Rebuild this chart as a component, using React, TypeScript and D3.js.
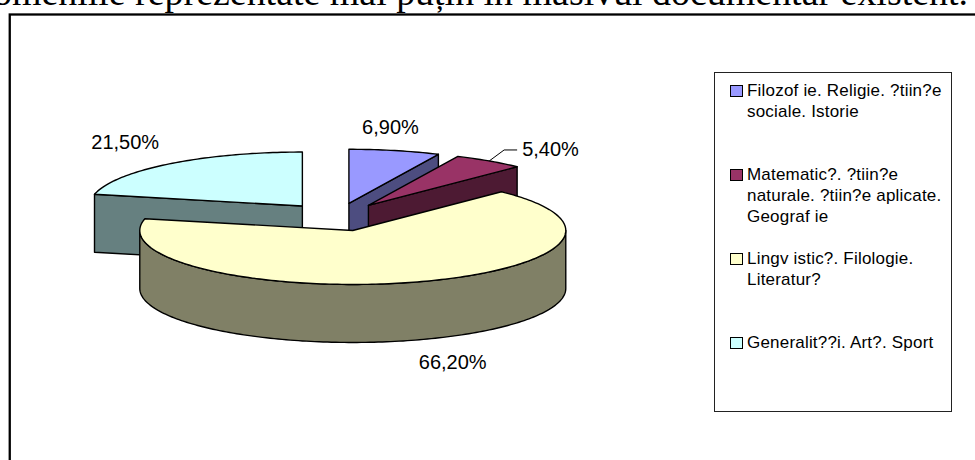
import React, { useEffect, useRef } from 'react';
import * as d3 from 'd3';

// text of the document line cut off above the chart
const pageTitle = 'domeniile reprezentate mai puțin în masivul documentar existent.';

// legend entries, as they appear (broken encoding kept)
const categories = [
  'Filozof ie. Religie. ?tiin?e sociale. Istorie',
  'Matematic?. ?tiin?e naturale. ?tiin?e aplicate. Geograf ie',
  'Lingv istic?. Filologie. Literatur?',
  'Generalit??i. Art?. Sport',
];
const legendLines = [
  ['Filozof ie. Religie. ?tiin?e', 'sociale. Istorie'],
  ['Matematic?. ?tiin?e', 'naturale. ?tiin?e aplicate.', 'Geograf ie'],
  ['Lingv istic?. Filologie.', 'Literatur?'],
  ['Generalit??i. Art?. Sport'],
];
const shares = [6.9, 5.4, 66.2, 21.5];
const colors = ['#9999FF', '#993366', '#FFFFCC', '#CCFFFF'];
// manual label drags (px) like in the original workbook
const labelNudge = [[-18, 0], [25, 8], [21, -2], [-4, -3]];

const W = 975;
const H = 460;

export default function App() {
  const ref = useRef<SVGSVGElement>(null);

  useEffect(() => {
    const svg = d3.select(ref.current);
    svg.selectAll('*').remove();

    svg.append('rect').attr('width', W).attr('height', H).attr('fill', '#fff');

    // cut-off paragraph line at the top
    svg.append('text')
      .attr('x', -26)
      .attr('y', 4.5)
      .attr('textLength', 994)
      .attr('lengthAdjust', 'spacingAndGlyphs')
      .style('font-family', '"Liberation Serif", "Times New Roman", serif')
      .style('font-size', '38px')
      .text(pageTitle);

    // chart frame
    svg.append('rect')
      .attr('x', 9.75).attr('y', 14.5)
      .attr('width', 1100).attr('height', 1000)
      .attr('fill', 'none').attr('stroke', '#000').attr('stroke-width', 2.3);

    // 3d pie geometry
    const cx = 337, cy = 217, rx = 213, ry = 54, depth = 58, explode = 0.26;

    const pie = d3.pie<number>().sort(null).value(d => d).startAngle(0).endAngle(2 * Math.PI);
    const arcs = pie(shares);

    const line = d3.line();
    const poly = (pts: [number, number][]) => line(pts) + 'Z';

    const slices = arcs.map((a, i) => {
      const m = (a.startAngle + a.endAngle) / 2;
      const ox = cx + explode * rx * Math.sin(m);
      const oy = cy - explode * ry * Math.cos(m);
      const pt = (ang: number, dz = 0): [number, number] =>
        [ox + rx * Math.sin(ang), oy - ry * Math.cos(ang) + dz];
      const arcPts = (s: number, e: number, dz = 0) => {
        const n = Math.max(2, Math.ceil(Math.abs(e - s) / 0.02));
        return d3.range(n + 1).map(k => pt(s + (e - s) * k / n, dz));
      };
      return { i, a, m, ox, oy, pt, arcPts };
    });

    const order = [...slices].sort((p, q) => d3.descending(Math.cos(p.m), Math.cos(q.m)));

    const g = svg.append('g')
      .attr('stroke', '#000')
      .attr('stroke-width', 1.4)
      .attr('stroke-linejoin', 'round');

    const dark = (c: string) => {
      const r = d3.rgb(c);
      return d3.rgb(r.r * 0.5, r.g * 0.5, r.b * 0.5).formatHex();
    };

    order.forEach(s => {
      const a0 = s.a.startAngle, a1 = s.a.endAngle;
      const side = dark(colors[s.i]);
      const apex: [number, number] = [s.ox, s.oy];
      const apexLow: [number, number] = [s.ox, s.oy + depth];

      if (Math.sin(a0) < -1e-6) {
        g.append('path').attr('fill', side)
          .attr('d', poly([apex, s.pt(a0), s.pt(a0, depth), apexLow]));
      }
      if (Math.sin(a1) > 1e-6) {
        g.append('path').attr('fill', side)
          .attr('d', poly([apex, s.pt(a1), s.pt(a1, depth), apexLow]));
      }
      const r0 = Math.max(a0, Math.PI / 2), r1 = Math.min(a1, 3 * Math.PI / 2);
      if (r1 > r0) {
        g.append('path').attr('fill', side)
          .attr('d', poly([...s.arcPts(r0, r1), ...s.arcPts(r1, r0, depth)]));
      }
      g.append('path').attr('fill', colors[s.i])
        .attr('d', poly([apex, ...s.arcPts(a0, a1)]));
    });

    // data labels
    const fmt = (v: number) => v.toFixed(2).replace('.', ',') + '%';
    const lab = svg.append('g')
      .style('font-family', '"Liberation Sans", Arial, sans-serif')
      .style('font-size', '20px');

    slices.forEach(s => {
      const [nx, ny] = labelNudge[s.i];
      const x = s.ox + Math.sin(s.m) * rx * 1.3 + nx;
      const y = s.oy - Math.cos(s.m) * ry * 1.45 + (Math.cos(s.m) < 0 ? depth : 0) + 7 + ny;
      const t = lab.append('text')
        .attr('x', x).attr('y', y)
        .attr('text-anchor', 'middle')
        .text(fmt(shares[s.i]));
      if (Math.hypot(nx, ny) > 25) {
        const w = (t.node() as SVGTextElement).getComputedTextLength();
        const left = x - w / 2;
        const my = y - 6;
        const from = s.pt(s.m);
        svg.append('path')
          .attr('fill', 'none').attr('stroke', '#000').attr('stroke-width', 1)
          .attr('d', d3.line()([from, [left - 18, my], [left - 5, my]]));
      }
    });

    // legend
    const lg = svg.append('g');
    lg.append('rect')
      .attr('x', 714.5).attr('y', 72.5)
      .attr('width', 237).attr('height', 339)
      .attr('fill', '#fff').attr('stroke', '#222').attr('stroke-width', 1);

    const ly = d3.scalePoint<string>().domain(categories).range([96, 348]);

    categories.forEach((c, i) => {
      const y = ly(c) as number;
      lg.append('rect')
        .attr('x', 730.5).attr('y', y - 10.5)
        .attr('width', 12).attr('height', 11)
        .attr('fill', colors[i]).attr('stroke', '#000').attr('stroke-width', 1);
      const t = lg.append('text')
        .attr('x', 747).attr('y', y)
        .style('font-family', '"Liberation Sans", Arial, sans-serif')
        .style('font-size', '17px')
        .style('letter-spacing', '0.2px');
      legendLines[i].forEach((ln, k) => {
        t.append('tspan').attr('x', 747).attr('y', y + k * 21).text(ln);
      });
    });
  }, []);

  return (
    <svg
      ref={ref}
      width={W}
      height={H}
      style={{ position: 'fixed', left: 0, top: 0, display: 'block' }}
    />
  );
}
